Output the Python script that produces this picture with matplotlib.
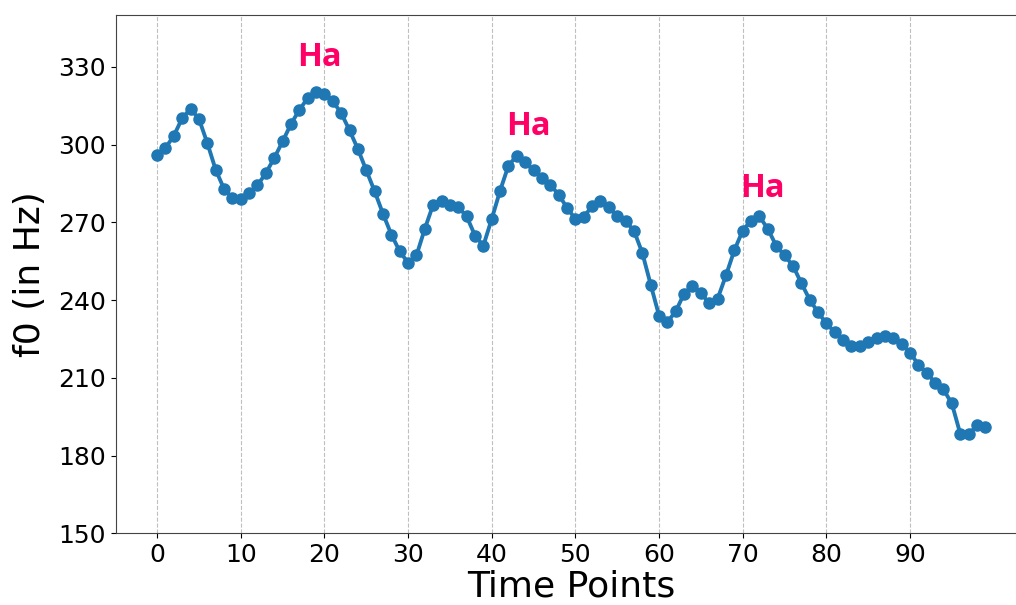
import numpy as np
import matplotlib
matplotlib.use('Agg')
import matplotlib.pyplot as plt

# f0 contour (Hz), one value per time point
f0 = [296.1, 298.7, 303.4, 310.2, 313.8, 309.9, 300.6, 290.3, 282.9, 279.4,
      279.1, 281.3, 284.3, 289.0, 294.8, 301.2, 307.9, 313.4, 317.9, 320.1,
      319.6, 316.7, 312.2, 305.5, 298.3, 290.1, 282.0, 273.3, 265.3, 258.8,
      254.4, 257.2, 267.5, 276.8, 278.4, 276.8, 275.9, 272.3, 264.9, 261.0,
      271.3, 282.2, 291.9, 295.7, 293.1, 290.0, 287.1, 284.5, 280.7, 275.6,
      271.3, 272.1, 276.2, 278.1, 275.8, 272.3, 270.4, 266.8, 258.2, 246.0,
      234.0, 231.5, 235.7, 242.5, 245.6, 242.8, 238.7, 240.5, 249.5, 259.2,
      266.8, 270.7, 272.3, 267.5, 261.0, 257.2, 253.3, 246.6, 240.2, 235.3,
      231.0, 227.6, 224.5, 222.2, 222.2, 223.7, 225.4, 226.1, 225.4, 223.2,
      219.7, 215.1, 212.0, 208.1, 205.5, 200.1, 188.5, 188.2, 191.6, 191.0]
t = np.arange(len(f0))

# syllable labels
labels = ['Ha', 'Ha', 'Ha']
label_x = [19.4, 44.4, 72.4]
label_y = [333.7, 306.9, 283.1]

fig = plt.figure(figsize=(10.16, 6.05), dpi=100)
ax = fig.add_axes([115.7 / 1016, (605 - 533.3) / 605, 911 / 1016, 518.3 / 605])

ax.plot(t, f0, color='#1f77b4', linewidth=2.8, marker='o', markersize=8)

for lab, x, y in zip(labels, label_x, label_y):
    ax.text(x, y, lab, color='#ff0066', fontsize=23.5, fontweight='bold',
            family='Open Sans', ha='center', va='center')

ax.set_ylim(150, 350)
ax.set_yticks(np.arange(150, 331, 30))
ax.set_xticks(np.arange(0, 91, 10))
ax.tick_params(labelsize=18)
ax.set_xlabel('Time Points', fontsize=26, labelpad=2)
ax.set_ylabel('f0 (in Hz)', fontsize=26, labelpad=8)
ax.grid(True, axis='x', linestyle='--', color='gray', alpha=0.5)
for s in ax.spines.values():
    s.set_color('#444444')
ax.spines['right'].set_visible(False)

plt.savefig('out.png', dpi=100)
